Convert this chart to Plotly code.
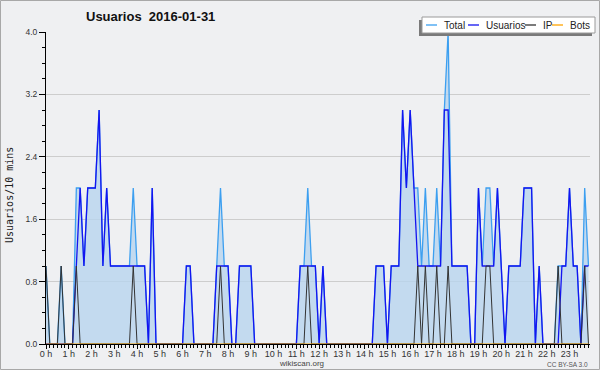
import plotly.graph_objects as go

# 10-minute slots over the day (144 slots)
hours = [f"{h} h" for h in range(24)]

total = [
    1, 0, 0, 0, 1, 0, 0, 0, 2, 2, 1, 2,
    2, 2, 3, 1, 2, 1, 1, 1, 1, 1, 1, 2,
    1, 1, 1, 0, 2, 0, 0, 0, 0, 0, 0, 0,
    0, 1, 1, 0, 0, 0, 0, 0, 0, 1, 2, 1,
    1, 0, 0, 1, 1, 1, 1, 0, 0, 0, 0, 0,
    0, 0, 0, 0, 0, 0, 0, 1, 1, 2, 1, 1,
    0, 1, 0, 0, 0, 0, 0, 0, 0, 0, 0, 0,
    0, 0, 0, 1, 1, 1, 0, 1, 1, 1, 3, 2,
    3, 2, 2, 1, 2, 1, 1, 2, 1, 3, 4, 1,
    1, 1, 1, 1, 0, 0, 2, 1, 2, 2, 1, 2,
    1, 0, 1, 1, 1, 1, 2, 2, 2, 0, 1, 0,
    0, 0, 0, 1, 1, 1, 2, 1, 1, 0, 2, 1,
]
usuarios = [
    0, 0, 0, 0, 0, 0, 0, 0, 1, 2, 1, 2,
    2, 2, 3, 1, 2, 1, 1, 1, 1, 1, 1, 1,
    1, 1, 1, 0, 2, 0, 0, 0, 0, 0, 0, 0,
    0, 1, 1, 0, 0, 0, 0, 0, 0, 1, 1, 1,
    1, 0, 0, 1, 1, 1, 1, 0, 0, 0, 0, 0,
    0, 0, 0, 0, 0, 0, 0, 1, 1, 1, 1, 1,
    0, 1, 0, 0, 0, 0, 0, 0, 0, 0, 0, 0,
    0, 0, 0, 1, 1, 1, 0, 1, 1, 1, 3, 2,
    3, 2, 1, 1, 1, 1, 1, 1, 1, 3, 3, 1,
    1, 1, 1, 1, 0, 0, 2, 1, 1, 1, 1, 2,
    1, 0, 1, 1, 1, 1, 2, 2, 2, 0, 1, 0,
    0, 0, 0, 0, 1, 1, 2, 1, 1, 0, 1, 1,
]
ip = [
    1, 0, 0, 0, 1, 0, 0, 0, 1, 0, 0, 0,
    0, 0, 0, 0, 0, 0, 0, 0, 0, 0, 0, 1,
    0, 0, 0, 0, 0, 0, 0, 0, 0, 0, 0, 0,
    0, 0, 0, 0, 0, 0, 0, 0, 0, 0, 1, 0,
    0, 0, 0, 0, 0, 0, 0, 0, 0, 0, 0, 0,
    0, 0, 0, 0, 0, 0, 0, 0, 0, 1, 0, 0,
    0, 0, 0, 0, 0, 0, 0, 0, 0, 0, 0, 0,
    0, 0, 0, 0, 0, 0, 0, 0, 0, 0, 0, 0,
    0, 0, 1, 0, 1, 0, 0, 1, 0, 0, 1, 0,
    0, 0, 0, 0, 0, 0, 0, 0, 1, 1, 0, 0,
    0, 0, 0, 0, 0, 0, 0, 0, 0, 0, 0, 0,
    0, 0, 0, 1, 0, 0, 0, 0, 0, 0, 1, 0,
]
bots = [0] * 144

x = [i / 6 for i in range(144)]

C_TOTAL = "#3c9ff0"
C_USU = "#1414f0"
C_IP = "#333333"
C_BOTS = "#ffa500"
BG = "#eff0f2"
FONT = "Liberation Sans"

fig = go.Figure()
fig.add_trace(go.Scatter(x=x, y=total, mode="lines", fill="tozeroy",
                         fillcolor="rgba(184,212,238,0.8)", line=dict(width=0),
                         showlegend=False, hoverinfo="skip"))
fig.add_trace(go.Scatter(x=x, y=total, mode="lines", name="Total",
                         line=dict(color=C_TOTAL, width=1.3)))
fig.add_trace(go.Scatter(x=x, y=usuarios, mode="lines", name="Usuarios",
                         line=dict(color=C_USU, width=1.3)))
fig.add_trace(go.Scatter(x=x, y=ip, mode="lines", name="IP",
                         line=dict(color=C_IP, width=1)))
fig.add_trace(go.Scatter(x=x, y=bots, mode="lines", name="Bots",
                         line=dict(color=C_BOTS, width=1)))

L, R, T, B = 46, 590, 32, 344
W, H = R - L, B - T


def px(v):
    return (v - L) / W


def py(v):
    return (B - v) / H


shapes = []
annotations = []

# outer border of the image
shapes.append(dict(type="rect", xref="paper", yref="paper",
                   x0=px(0.5), x1=px(599.5), y0=py(0.5), y1=py(369.5),
                   line=dict(color="#a8a8a8", width=1), layer="below"))

# legend: shadow, box, swatches, labels
shapes.append(dict(type="rect", xref="paper", yref="paper",
                   x0=px(419), x1=px(592), y0=py(20), y1=py(36),
                   fillcolor="#7a7a7a", line=dict(width=0)))
shapes.append(dict(type="rect", xref="paper", yref="paper",
                   x0=px(422), x1=px(595), y0=py(17), y1=py(33),
                   fillcolor="white", line=dict(color="#9a9a9a", width=1)))
legend_items = [("Total", C_TOTAL, 426, 442), ("Usuarios", C_USU, 468, 484),
                ("IP", C_IP, 525, 541), ("Bots", C_BOTS, 552, 568)]
for name, col, lx, tx in legend_items:
    shapes.append(dict(type="line", xref="paper", yref="paper",
                       x0=px(lx), x1=px(lx + 11), y0=py(25), y1=py(25),
                       line=dict(color=col, width=1.3)))
    annotations.append(dict(text=name, xref="paper", yref="paper",
                            x=px(tx), y=py(25), xanchor="left", yanchor="middle",
                            showarrow=False, font=dict(size=10, color="#222", family=FONT)))

# title
annotations.append(dict(text="<b>Usuarios&nbsp;&nbsp;2016-01-31</b>", xref="paper", yref="paper",
                        x=px(84), y=py(17), xanchor="left", yanchor="middle",
                        showarrow=False, font=dict(size=13, color="#111", family=FONT)))
# y axis title
annotations.append(dict(text="Usuarios/10 mins", xref="paper", yref="paper",
                        x=px(10), y=py(195), xanchor="center", yanchor="middle",
                        textangle=-90, showarrow=False,
                        font=dict(size=10, color="#222", family="DejaVu Sans Mono")))
# footers
annotations.append(dict(text="wikiscan.org", xref="paper", yref="paper",
                        x=px(301), y=py(363.5), xanchor="center", yanchor="middle",
                        showarrow=False, font=dict(size=8, color="#444", family=FONT)))
annotations.append(dict(text="CC BY-SA 3.0", xref="paper", yref="paper",
                        x=px(590), y=py(364), xanchor="right", yanchor="middle",
                        showarrow=False, font=dict(size=6.5, color="#555", family=FONT)))

fig.update_layout(
    width=600, height=370,
    margin=dict(l=L, r=600 - R, t=T, b=370 - B),
    paper_bgcolor=BG, plot_bgcolor=BG,
    showlegend=False,
    font=dict(family=FONT, size=9, color="#333"),
    shapes=shapes, annotations=annotations,
    xaxis=dict(range=[0, 23.9], tickvals=list(range(24)), ticktext=hours,
               ticks="outside", ticklen=4, tickcolor="#000", tickwidth=1,
               ticklabelstandoff=-3,
               minor=dict(dtick=1 / 6, tick0=0, ticks="outside", ticklen=3,
                          tickcolor="#000", showgrid=False),
               showgrid=False, zeroline=False, showline=True,
               linecolor="#000", linewidth=1,
               tickfont=dict(size=9, color="#333", family=FONT)),
    yaxis=dict(range=[0, 4], tick0=0, dtick=0.8, tickformat=".1f",
               ticks="outside", ticklen=6, tickcolor="#000", tickwidth=1,
               minor=dict(dtick=0.2, tick0=0, ticks="outside", ticklen=3,
                          tickcolor="#000", showgrid=False),
               showgrid=True, gridcolor="#cdcdcd", gridwidth=1,
               zeroline=False, showline=True, linecolor="#000", linewidth=1,
               tickfont=dict(size=8.5, color="#333", family=FONT)),
)

fig.write_html("out.html", config={"displayModeBar": False},
               post_script="document.body.style.margin='0';document.body.style.padding='0';")
